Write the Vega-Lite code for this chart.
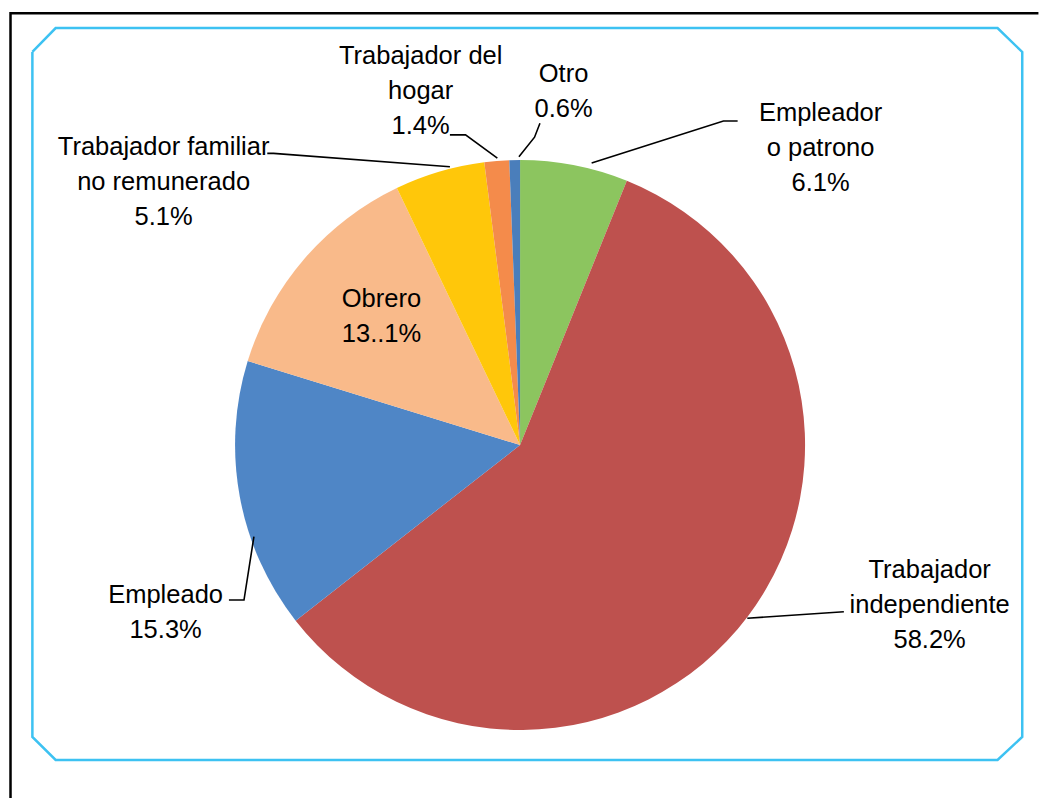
{
  "$schema": "https://vega.github.io/schema/vega-lite/v6.json",
  "width": 1039,
  "height": 798,
  "autosize": {"type": "none"},
  "padding": 0,
  "background": "white",
  "config": {"view": {"stroke": null}},
  "datasets": {
    "shares": [
      {"categoria": "Empleador o patrono", "porcentaje": 6.1, "orden": 1},
      {"categoria": "Trabajador independiente", "porcentaje": 58.2, "orden": 2},
      {"categoria": "Empleado", "porcentaje": 15.3, "orden": 3},
      {"categoria": "Obrero", "porcentaje": 13.1, "orden": 4},
      {"categoria": "Trabajador familiar no remunerado", "porcentaje": 5.1, "orden": 5},
      {"categoria": "Trabajador del hogar", "porcentaje": 1.4, "orden": 6},
      {"categoria": "Otro", "porcentaje": 0.6, "orden": 7}
    ],
    "labels": [
      {"texto": "Trabajador del\nhogar\n1.4%", "u": -35.0, "v": 134.2},
      {"texto": "Otro\n0.6%", "u": 15.3, "v": 127.8},
      {"texto": "Empleador\no patrono\n6.1%", "u": 105.8, "v": 114.1},
      {"texto": "Trabajador familiar\nno remunerado\n5.1%", "u": -125.5, "v": 102.1},
      {"texto": "Obrero\n13..1%", "u": -48.8, "v": 48.6},
      {"texto": "Empleado\n15.3%", "u": -124.8, "v": -55.6},
      {"texto": "Trabajador\nindependiente\n58.2%", "u": 144.2, "v": -46.8}
    ],
    "leaders": [
      {"id": "Empleador", "i": 1, "u": 25.2, "v": 99.3},
      {"id": "Empleador", "i": 2, "u": 71.6, "v": 114.1},
      {"id": "Empleador", "i": 3, "u": 76.6, "v": 114.1},
      {"id": "Otro", "i": 1, "u": -0.4, "v": 101.5},
      {"id": "Otro", "i": 2, "u": 5.1, "v": 108.4},
      {"id": "Otro", "i": 3, "u": 7.0, "v": 113.3},
      {"id": "Hogar", "i": 1, "u": -8.0, "v": 101.0},
      {"id": "Hogar", "i": 2, "u": -19.2, "v": 109.2},
      {"id": "Hogar", "i": 3, "u": -24.7, "v": 109.2},
      {"id": "Familiar", "i": 1, "u": -24.7, "v": 98.0},
      {"id": "Familiar", "i": 2, "u": -86.8, "v": 102.7},
      {"id": "Familiar", "i": 3, "u": -89.0, "v": 102.7},
      {"id": "Empleado", "i": 1, "u": -93.7, "v": -32.3},
      {"id": "Empleado", "i": 2, "u": -97.2, "v": -54.6},
      {"id": "Empleado", "i": 3, "u": -102.5, "v": -54.6},
      {"id": "Independiente", "i": 1, "u": 80.0, "v": -61.0},
      {"id": "Independiente", "i": 2, "u": 114.0, "v": -58.7}
    ],
    "frame": [
      {"pieza": "marco", "i": 1, "u": -171.7, "v": 138.4},
      {"pieza": "marco", "i": 2, "u": -163.5, "v": 146.8},
      {"pieza": "marco", "i": 3, "u": 168.1, "v": 146.8},
      {"pieza": "marco", "i": 4, "u": 176.8, "v": 138.4},
      {"pieza": "marco", "i": 5, "u": 176.8, "v": -102.8},
      {"pieza": "marco", "i": 6, "u": 168.1, "v": -110.9},
      {"pieza": "marco", "i": 7, "u": -163.5, "v": -110.9},
      {"pieza": "marco", "i": 8, "u": -171.7, "v": -102.8},
      {"pieza": "marco", "i": 9, "u": -171.7, "v": 138.4},
      {"pieza": "borde", "i": 1, "u": 182.5, "v": 152.0},
      {"pieza": "borde", "i": 2, "u": -179.4, "v": 152.0},
      {"pieza": "borde", "i": 3, "u": -179.4, "v": -124.3}
    ]
  },
  "encoding": {
    "x": {"type": "quantitative", "scale": {"domain": [-183.1, 182.7], "nice": false, "zero": false}, "axis": null},
    "y": {"type": "quantitative", "scale": {"domain": [-124.3, 156.7], "nice": false, "zero": false}, "axis": null}
  },
  "layer": [
    {
      "data": {"name": "frame"},
      "transform": [{"filter": "datum.pieza == 'marco'"}],
      "mark": {"type": "line", "stroke": "#3DC2F2", "strokeWidth": 2.5, "strokeJoin": "miter"},
      "encoding": {
        "x": {"field": "u", "type": "quantitative"},
        "y": {"field": "v", "type": "quantitative"},
        "order": {"field": "i", "type": "quantitative"}
      }
    },
    {
      "data": {"name": "frame"},
      "transform": [{"filter": "datum.pieza == 'borde'"}],
      "mark": {"type": "line", "stroke": "#000000", "strokeWidth": 2.5, "strokeJoin": "miter"},
      "encoding": {
        "x": {"field": "u", "type": "quantitative"},
        "y": {"field": "v", "type": "quantitative"},
        "order": {"field": "i", "type": "quantitative"}
      }
    },
    {
      "data": {"name": "shares"},
      "mark": {"type": "arc", "outerRadius": 285},
      "encoding": {
        "theta": {"field": "porcentaje", "type": "quantitative", "stack": true},
        "order": {"field": "orden", "type": "quantitative"},
        "color": {
          "field": "categoria",
          "type": "nominal",
          "legend": null,
          "scale": {
            "domain": ["Empleador o patrono", "Trabajador independiente", "Empleado", "Obrero", "Trabajador familiar no remunerado", "Trabajador del hogar", "Otro"],
            "range": ["#8CC55F", "#BE514E", "#4F86C6", "#F9BA8A", "#FFC70A", "#F48B4B", "#4A7EBB"]
          }
        },
        "x": {"datum": 0, "type": "quantitative"},
        "y": {"datum": 0, "type": "quantitative"}
      }
    },
    {
      "data": {"name": "leaders"},
      "mark": {"type": "line", "stroke": "#000000", "strokeWidth": 1.6},
      "encoding": {
        "x": {"field": "u", "type": "quantitative"},
        "y": {"field": "v", "type": "quantitative"},
        "detail": {"field": "id", "type": "nominal"},
        "order": {"field": "i", "type": "quantitative"}
      }
    },
    {
      "data": {"name": "labels"},
      "mark": {"type": "text", "font": "Liberation Sans, Arial", "fontSize": 25.5, "lineHeight": 35, "lineBreak": "\n", "align": "center", "baseline": "alphabetic", "fill": "#000000"},
      "encoding": {
        "x": {"field": "u", "type": "quantitative"},
        "y": {"field": "v", "type": "quantitative"},
        "text": {"field": "texto", "type": "nominal"}
      }
    }
  ]
}
